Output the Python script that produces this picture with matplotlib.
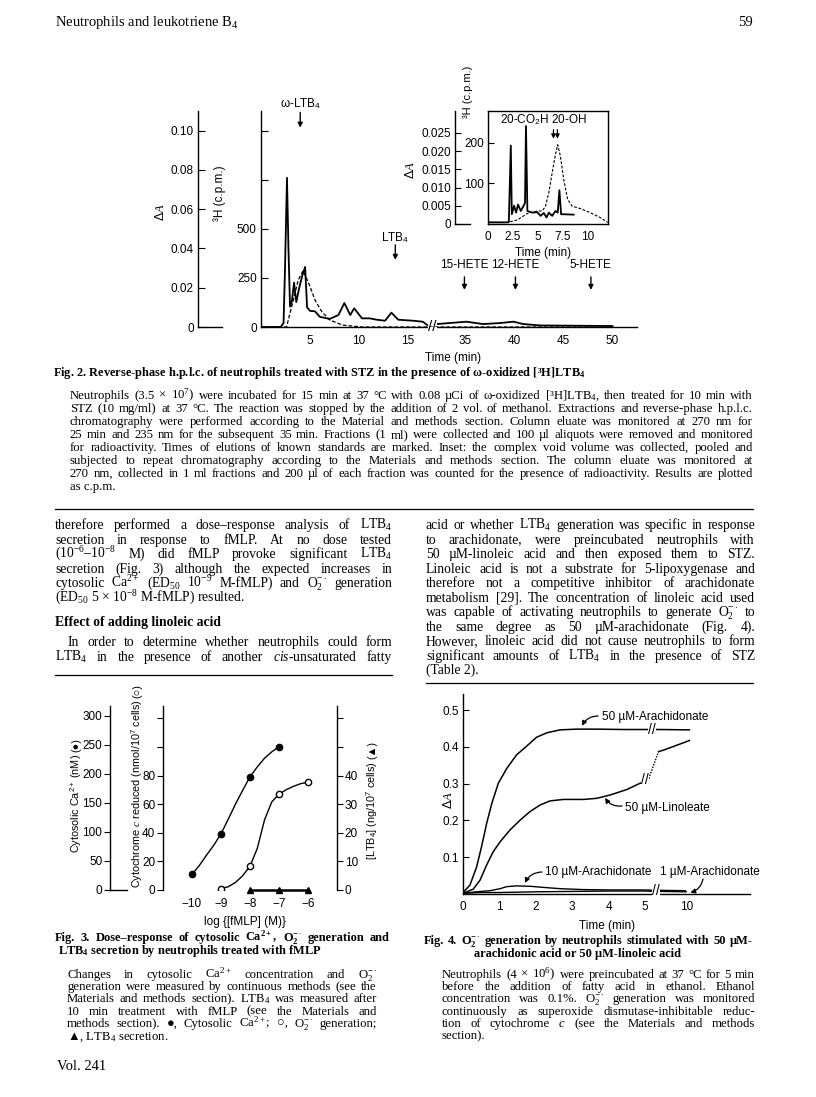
import numpy as np
import matplotlib
matplotlib.use('Agg')
import matplotlib.pyplot as plt
from matplotlib.lines import Line2D

W, H = 816, 1097

# ---- Fig. 2: h.p.l.c. trace (time in min) ----
hplc_t = [0, 2.0, 2.3, 2.45, 2.65, 2.8, 2.96, 3.15, 3.37, 3.6, 3.9, 4.2, 4.5, 4.7,
          5.0, 5.5, 6.0, 7.0, 7.9, 8.5, 9.1, 9.5, 10.3, 11.1, 11.8, 12.65, 13.3,
          14.0, 15.5, 16.5, 17.1, 32.1, 35.1, 36.8, 38.5, 39.9, 40.9, 42.6, 50.0]
hplc_cpm = [0, 0, 20, 300, 760, 400, 104, 130, 226, 127, 200, 260, 306, 100,
            82, 80, 52, 41, 61, 122, 61, 95, 44, 44, 37, 32, 73,
            37, 32, 27, 5, 15, 27, 15, 20, 27, 15, 8, 5]
abs_t = [0, 2.6, 3.3, 3.8, 4.3, 5.0, 5.5, 6.2, 7.0, 8.3, 10.3, 17.0, 32.0, 50.0]
abs_dA = [0, 0, 0.0137, 0.024, 0.0287, 0.0206, 0.0138, 0.0078, 0.0036, 0.001, 0, 0, 0, 0]
std_names = ['ω-LTB$_\\mathsf{4}$', 'LTB$_\\mathsf{4}$', '15-HETE', '12-HETE', '5-HETE']
std_times = [4.0, 13.7, 34.9, 40.1, 47.8]

# inset
ins_t = [0, 2.0, 2.1, 2.3, 2.4, 2.63, 2.83, 3.03, 3.3, 3.57, 3.73, 3.83, 3.97, 4.47,
         4.97, 5.3, 5.63, 5.9, 6.13, 6.47, 6.8, 7.03, 7.2, 7.37, 7.63, 8.63]
ins_cpm = [4, 4, 5, 193, 24, 45, 28, 48, 32, 44, 52, 241, 32, 28,
           29, 20, 27, 16, 28, 20, 32, 28, 83, 24, 24, 23]
ins_abs_t = [0, 1.97, 2.97, 3.97, 4.97, 5.47, 5.8, 6.13, 6.47, 6.8, 7.03, 7.3, 7.63,
             8.03, 8.47, 9.3, 10.3, 11.3, 12.07]
ins_abs = [4, 4, 10, 26, 32, 32, 44, 77, 126, 171, 195, 167, 110,
           61, 44, 38, 28, 16, 4]
ins_std_names = ['20-CO$_\\mathsf{2}$H', '20-OH']
ins_std_times = [6.6, 7.0]

# ---- Fig. 3: dose-response ----
dose = [-10, -9, -8, -7, -6]
dose_labels = ['\u221210', '\u22129', '\u22128', '\u22127', '\u22126']
ca_x = [-10, -9, -8, -7]
ca_nM = [27, 97, 195, 247]
ca_curve_x = [-10, -9.75, -9.5, -9.25, -9, -8.75, -8.5, -8.25, -8, -7.75, -7.5, -7.25, -7]
ca_curve = [27, 42, 60, 77, 97, 122, 148, 172, 195, 212, 227, 238, 247]
o2_x = [-9, -8, -7, -6]
o2_nmol = [1, 16.7, 67, 75.3]
o2_curve_x = [-9, -8.75, -8.5, -8.25, -8, -7.75, -7.5, -7.25, -7, -6.75, -6.5, -6.25, -6]
o2_curve = [1, 2.3, 5.3, 10, 16.7, 29, 49, 61.6, 67, 70.2, 72.5, 74.4, 75.3]
ltb4_x = [-8, -7, -6]
ltb4_ng = [0, 0, 0]

# ---- Fig. 4: O2- generation (time in min) ----
ara50_t = [0.01, 0.19, 0.375, 0.51, 0.65, 0.79, 0.97, 1.2, 1.47, 1.75, 2.02, 2.3,
           2.66, 3.12, 3.67, 4.4, 4.95, 6.6, 9.4, 10.07]
ara50 = [0.005, 0.024, 0.074, 0.129, 0.192, 0.246, 0.301, 0.341, 0.378, 0.402, 0.426,
         0.438, 0.446, 0.448, 0.448, 0.447, 0.447, 0.447, 0.447, 0.446]
lin50_t = [0.05, 0.28, 0.47, 0.65, 0.83, 1.02, 1.29, 1.57, 1.84, 2.12, 2.39, 2.76,
           3.31, 3.67, 4.04, 4.5, 4.95, 5.1]
lin50 = [0.004, 0.013, 0.038, 0.079, 0.115, 0.142, 0.174, 0.201, 0.224, 0.242, 0.253,
         0.257, 0.257, 0.26, 0.269, 0.284, 0.305, 0.314]
lin50_gap_t = [5.1, 9.25]
lin50_gap = [0.314, 0.387]
lin50_late_t = [9.25, 9.5, 10.07]
lin50_late = [0.387, 0.391, 0.417]
ara10_t = [0.01, 0.375, 0.74, 1.02, 1.2, 1.47, 1.84, 2.2, 2.66, 3.3, 4.04, 4.95, 9.4, 9.98]
ara10 = [0.002, 0.006, 0.009, 0.0145, 0.02, 0.022, 0.021, 0.018, 0.0145, 0.012, 0.011,
         0.011, 0.01, 0.009]
ara1_t = [0.01, 0.5, 1.0, 2.0, 3.0, 4.0, 4.95, 9.4, 10.0]
ara1 = [0.002, 0.004, 0.004, 0.006, 0.007, 0.008, 0.008, 0.007, 0.006]
f4_ticks = [0, 1, 2, 3, 4, 5, 10]

plt.rcParams['mathtext.fontset'] = 'custom'
plt.rcParams['mathtext.rm'] = 'Liberation Serif'
plt.rcParams['mathtext.it'] = 'Liberation Serif:italic'
plt.rcParams['mathtext.bf'] = 'Liberation Serif:bold'
plt.rcParams['mathtext.sf'] = 'Liberation Sans'
SERIF = ['Liberation Serif', 'DejaVu Serif']
SANS = ['Liberation Sans', 'DejaVu Sans']
plt.rcParams['font.family'] = SANS
plt.rcParams['axes.linewidth'] = 1.0
plt.rcParams['font.size'] = 8.5

fig = plt.figure(figsize=(W / 100, H / 100), dpi=100)
R = fig.canvas.get_renderer()


def box(x0, y0, x1, y1):
    return [x0 / W, 1 - y1 / H, (x1 - x0) / W, (y1 - y0) / H]


def put(x, y, s, size=9.8, x1=None, family=SERIF, weight='normal', ha='left', **kw):
    yb = 1 - (y + 0.3 * size / 0.72) / H
    if x1 is None:
        return fig.text(x / W, yb, s, fontsize=size, family=family, weight=weight,
                        ha=ha, va='baseline', **kw)
    words = s.split(' ')
    ts = [fig.text(0, yb, w, fontsize=size, family=family, weight=weight, va='baseline')
          for w in words]
    ws = [t.get_window_extent(R).width for t in ts]
    gap = (x1 - x - sum(ws)) / max(len(ws) - 1, 1)
    for t, w in zip(ts, ws):
        t.set_x(x / W)
        x += w + gap


def vlabel(x, y0, parts, size=7.8):
    # rotated axis label built upward from pixel y0, piece by piece
    y = y0
    for s in parts:
        t = fig.text(x / W, 1 - y / H, s, rotation=90, ha='center', va='bottom',
                     fontsize=size)
        y -= t.get_window_extent(R).height + 2


def rule(x0, x1, y):
    fig.add_artist(Line2D([x0 / W, x1 / W], [1 - y / H] * 2, lw=0.9, color='k',
                          transform=fig.transFigure))


def brk(tk, dk):
    return (lambda t: np.interp(t, tk, dk), lambda d: np.interp(d, dk, tk))


def bare(ax, keep=('left', 'bottom')):
    for s in ['left', 'right', 'top', 'bottom']:
        ax.spines[s].set_visible(s in keep)
    ax.patch.set_visible(False)


# ---------------- header ----------------
put(55, 22, 'Neutrophils and leukotriene B$_4$', size=10.5)
put(753, 22, '59', size=10.5, ha='right')

# ---------------- Fig. 2 ----------------
ax = fig.add_axes(box(261, 111, 637, 327))
bare(ax)
ax.set_xscale('function', functions=brk([-1000, 17.4, 31.7, 1000],
                                        [-1000, 17.4, 17.55, 1000 - 14.15]))
ax.set_xlim(0, 52.5)
ax.set_ylim(0, 1100)
ax.plot(hplc_t, hplc_cpm, color='k', lw=1.3)
ax2 = ax.twinx()
ax2.axis('off')
ax2.set_ylim(0, 0.11)
ax2.plot(abs_t, abs_dA, color='k', lw=0.9, ls=(0, (3, 1.6)))
ax.set_xticks([5, 10, 15, 35, 40, 45, 50])
ax.set_xticklabels(['5', '10', '15', '35', '40', '45', '50'])
ax.tick_params(axis='x', length=0, pad=6)
ax.set_yticks([0, 250, 500, 750, 1000])
ax.set_yticklabels(['0', '250', '500', '', ''])
ax.tick_params(axis='y', direction='in', length=5, pad=3)
ax.text(24.5, 0, '//', ha='center', va='center', fontsize=11, zorder=6, clip_on=False,
        bbox=dict(fc='white', ec='none', pad=0.3))
lab_y = [1138, 454, 316, 316, 316]
tail_y = [1092, 418, 255, 255, 255]
tip_y = [1015, 342, 189, 189, 189]
for n, t, ly, ty, py in zip(std_names, std_times, lab_y, tail_y, tip_y):
    ax.text(t, ly, n, ha='center', va='center', fontsize=8.5, clip_on=False)
    ax.annotate('', xy=(t, py), xytext=(t, ty), annotation_clip=False,
                arrowprops=dict(arrowstyle='-|>', color='k', lw=1, mutation_scale=7,
                                shrinkA=0, shrinkB=0))
put(453, 357, 'Time (min)', size=8.5, family=SANS, ha='center')
fig.text(220 / W, 1 - 193 / H, '³H (c.p.m.)', rotation=90, ha='center', va='center',
         fontsize=8.5)
fig.text(160 / W, 1 - 212 / H, 'Δ$\\it{A}$', rotation=90, ha='center', va='center',
         fontsize=9)

axa = fig.add_axes(box(198, 111, 222, 327))
bare(axa)
axa.set_ylim(0, 0.11)
axa.set_xticks([])
axa.set_yticks([0, 0.02, 0.04, 0.06, 0.08, 0.10])
axa.set_yticklabels(['0', '0.02', '0.04', '0.06', '0.08', '0.10'])
axa.tick_params(axis='y', direction='in', length=5, pad=3)

# inset
ai = fig.add_axes(box(488, 111, 608, 224))
ai.patch.set_visible(False)
ai.set_xlim(0, 12.1)
ai.set_ylim(0, 278)
ai.plot(ins_t, ins_cpm, color='k', lw=1.3)
ai.plot(ins_abs_t, ins_abs, color='k', lw=0.8, ls=(0, (2.5, 1.5)))
ai.set_xticks([0, 2.5, 5, 7.5, 10])
ai.set_xticklabels(['0', '2.5', '5', '7.5', '10'])
ai.tick_params(axis='x', length=0, pad=5)
ai.set_yticks([100, 200])
ai.tick_params(axis='y', direction='in', length=4, pad=3)
ai.text(5.6, 256, '20-CO$_\\mathsf{2}$H 20-OH', ha='center', va='center', fontsize=8.5)
for t in ins_std_times:
    ai.annotate('', xy=(t, 210), xytext=(t, 232),
                arrowprops=dict(arrowstyle='-|>', color='k', lw=0.9, mutation_scale=6,
                                shrinkA=0, shrinkB=0))
put(543, 252, 'Time (min)', size=8.5, family=SANS, ha='center')
fig.text(468 / W, 1 - 92 / H, '³H (c.p.m.)', rotation=90, ha='center', va='center',
         fontsize=8)

aia = fig.add_axes(box(455, 111, 470, 224))
bare(aia)
aia.set_ylim(0, 0.031)
aia.set_xticks([])
aia.set_yticks([0, 0.005, 0.010, 0.015, 0.020, 0.025])
aia.set_yticklabels(['0', '0.005', '0.010', '0.015', '0.020', '0.025'])
aia.tick_params(axis='y', direction='in', length=4, pad=3)
fig.text(410 / W, 1 - 170 / H, 'Δ$\\it{A}$', rotation=90, ha='center', va='center',
         fontsize=9)

# caption and legend of Fig. 2
put(53, 372, 'Fig. 2. Reverse-phase h.p.l.c. of neutrophils treated with STZ in the presence '
    'of ω-oxidized [³H]LTB$_\\mathbf{4}$', size=8.9, weight='bold')
L2 = ['Neutrophils (3.5 × 10$^7$) were incubated for 15 min at 37 °C with 0.08 µCi of '
      'ω-oxidized [³H]LTB$_4$, then treated for 10 min with',
      'STZ (10 mg/ml) at 37 °C. The reaction was stopped by the addition of 2 vol. of '
      'methanol. Extractions and reverse-phase h.p.l.c.',
      'chromatography were performed according to the Material and methods section. '
      'Column eluate was monitored at 270 nm for',
      '25 min and 235 nm for the subsequent 35 min. Fractions (1 ml) were collected and '
      '100 µl aliquots were removed and monitored',
      'for radioactivity. Times of elutions of known standards are marked. Inset: the '
      'complex void volume was collected, pooled and',
      'subjected to repeat chromatography according to the Materials and methods section. '
      'The column eluate was monitored at',
      '270 nm, collected in 1 ml fractions and 200 µl of each fraction was counted for the '
      'presence of radioactivity. Results are plotted']
for i, s in enumerate(L2):
    put(70, 395 + 13 * i, s, size=9.2, x1=753)
put(70, 395 + 13 * 7, 'as c.p.m.', size=9.2)
rule(55, 753, 509)

# body columns
left = ['therefore performed a dose–response analysis of LTB$_4$',
        'secretion in response to fMLP. At no dose tested',
        '(10$^{-6}$–10$^{-8}$ M) did fMLP provoke significant LTB$_4$',
        'secretion (Fig. 3) although the expected increases in',
        'cytosolic Ca$^{2+}$ (ED$_{50}$ 10$^{-9}$ M-fMLP) and O$_2^{-\\cdot}$ generation']
for i, s in enumerate(left):
    put(55, 525 + 14.5 * i, s, x1=392)
put(55, 597.5, '(ED$_{50}$ 5 × 10$^{-8}$ M-fMLP) resulted.')
put(55, 622, 'Effect of adding linoleic acid', weight='bold')
put(68, 642, 'In order to determine whether neutrophils could form', x1=392)
put(55, 657, 'LTB$_4$ in the presence of another $\\it{cis}$-unsaturated fatty', x1=392)
rule(55, 392, 675)

right = ['acid or whether LTB$_4$ generation was specific in response',
         'to arachidonate, were preincubated neutrophils with',
         '50 µM-linoleic acid and then exposed them to STZ.',
         'Linoleic acid is not a substrate for 5-lipoxygenase and',
         'therefore not a competitive inhibitor of arachidonate',
         'metabolism [29]. The concentration of linoleic acid used',
         'was capable of activating neutrophils to generate O$_2^{-\\cdot}$ to',
         'the same degree as 50 µM-arachidonate (Fig. 4).',
         'However, linoleic acid did not cause neutrophils to form',
         'significant amounts of LTB$_4$ in the presence of STZ']
for i, s in enumerate(right):
    put(426, 525 + 14.5 * i, s, x1=755)
put(426, 670, '(Table 2).')
rule(426, 753, 683)

# ---------------- Fig. 3 ----------------
ax3 = fig.add_axes(box(163, 706, 337, 890))
bare(ax3, keep=('left',))
ax3.set_xlim(-11, -5)
ax3.set_ylim(0, 128.7)
ax3.plot(o2_curve_x, o2_curve, color='k', lw=1.0)
ax3.plot(o2_x, o2_nmol, 'o', mfc='white', mec='k', ms=4.5, mew=1.0)
ax3.set_yticks([0, 20, 40, 60, 80, 100, 120])
ax3.set_yticklabels(['0', '20', '40', '60', '80', '', ''])
ax3.tick_params(axis='y', direction='out', length=4, pad=1.5)
ax3.set_xticks(dose)
ax3.set_xticklabels(dose_labels)
ax3.tick_params(axis='x', length=0, pad=6)

ax3r = ax3.twinx()
bare(ax3r, keep=('right',))
ax3r.set_ylim(0, 64.3)
ax3r.plot(ltb4_x, ltb4_ng, color='k', lw=1.8, marker='^', ms=4.5, clip_on=False)
ax3r.set_yticks([0, 10, 20, 30, 40, 50, 60])
ax3r.set_yticklabels(['0', '10', '20', '30', '40', '', ''])
ax3r.tick_params(axis='y', direction='out', length=4, pad=1.5)

ax3c = ax3.twinx()
ax3c.axis('off')
ax3c.set_ylim(0, 317)
ax3c.plot(ca_curve_x, ca_curve, color='k', lw=1.0)
ax3c.plot(ca_x, ca_nM, 'o', color='k', ms=4.5)

axca = fig.add_axes(box(110, 706, 127, 890))
bare(axca)
axca.set_ylim(0, 317)
axca.set_xticks([])
axca.set_yticks([0, 50, 100, 150, 200, 250, 300])
axca.tick_params(axis='y', direction='out', length=4, pad=1.5)

vlabel(76, 853, ['Cytosolic Ca$^{\\mathsf{2+}}$ (nM)', '(●)'])
vlabel(137, 888, ['Cytochrome $\\it{c}$ reduced (nmol/10$^{\\mathsf{7}}$ cells)', '(○)'])
vlabel(372, 860, ['[LTB$_\\mathsf{4}$] (ng/10$^{\\mathsf{7}}$ cells)', '(▲)'])
put(245, 921, 'log {[fMLP] (M)}', size=8.5, family=SANS, ha='center')

put(55, 937, 'Fig. 3. Dose–response of cytosolic Ca$^{\\mathbf{2+}}$, '
    'O$_\\mathbf{2}^{\\mathbf{-\\cdot}}$ generation and', size=8.9, weight='bold', x1=390)
put(190, 950, 'LTB$_\\mathbf{4}$ secretion by neutrophils treated with fMLP', size=8.9,
    weight='bold', ha='center')
L3 = ['Changes in cytosolic Ca$^{2+}$ concentration and O$_2^{-\\cdot}$',
      'generation were measured by continuous methods (see the',
      'Materials and methods section). LTB$_4$ was measured after',
      '10 min treatment with fMLP (see the Materials and',
      'methods section). ●, Cytosolic Ca$^{2+}$; ○, O$_2^{-\\cdot}$ generation;']
for i, s in enumerate(L3):
    put(67, 974 + 12.3 * i, s, size=9.2, x1=377)
put(67, 974 + 12.3 * 5, '▲, LTB$_4$ secretion.', size=9.2)
put(57, 1066, 'Vol. 241', size=10.5)

# ---------------- Fig. 4 ----------------
ax4 = fig.add_axes(box(463, 694, 750, 894))
bare(ax4)
ax4.set_xscale('function', functions=brk([-1000, 5.1, 9.4, 1000],
                                         [-1000, 5.1, 5.38, 5.38 + 990.6 * 1.25]))
ax4.set_xlim(0, 11.4)
ax4.set_ylim(0, 0.5435)
ax4.plot(ara50_t, ara50, color='k', lw=1.1)
ax4.plot(lin50_t, lin50, color='k', lw=1.1)
ax4.plot(lin50_gap_t, lin50_gap, color='k', lw=1.0, ls=(0, (1, 1)))
ax4.plot(lin50_late_t, lin50_late, color='k', lw=1.1)
ax4.plot(ara10_t, ara10, color='k', lw=1.0)
ax4.plot(ara1_t, ara1, color='k', lw=1.0)
ax4.set_xticks(f4_ticks)
ax4.set_xticklabels([str(v) for v in f4_ticks])
ax4.tick_params(axis='x', length=0, pad=5)
ax4.set_yticks([0.1, 0.2, 0.3, 0.4, 0.5])
ax4.set_yticklabels(['0.1', '0.2', '0.3', '0.4', '0.5'])
ax4.tick_params(axis='y', direction='in', length=4, pad=3)
for bt, bv in [(6.6, 0.447), (5.0, 0.31), (8.2, 0.008)]:
    ax4.text(bt, bv, '//', ha='center', va='center', fontsize=10, zorder=6,
             bbox=dict(fc='white', ec='none', pad=0.2))
fig.text(448 / W, 1 - 800 / H, 'Δ$\\it{A}$', rotation=90, ha='center', va='center',
         fontsize=9)
put(607, 925, 'Time (min)', size=8.5, family=SANS, ha='center')

f4_labels = ['50 µM-Arachidonate', '50 µM-Linoleate', '10 µM-Arachidonate', '1 µM-Arachidonate']
f4_text_px = [(602, 716), (625, 807), (545, 871), (660, 871)]
f4_tail_px = [(598, 716), (622, 806), (542, 872), (703, 879)]
f4_tip = [(3.27, 0.457), (3.9, 0.261), (1.7, 0.03), (10.09, 0.004)]
f4_rad = [0.3, -0.3, 0.3, -0.3]
for s, (tx, ty), (ax_, ay), tip, r in zip(f4_labels, f4_text_px, f4_tail_px, f4_tip, f4_rad):
    put(tx, ty, s, size=8.5, family=SANS)
    ax4.annotate('', xy=tip, xytext=(ax_, H - ay), textcoords='figure pixels',
                 annotation_clip=False,
                 arrowprops=dict(arrowstyle='-|>', color='k', lw=0.9, mutation_scale=7,
                                 shrinkA=0, shrinkB=0,
                                 connectionstyle='arc3,rad=%.1f' % r))

put(424, 940, 'Fig. 4. O$_\\mathbf{2}^{\\mathbf{-\\cdot}}$ generation by neutrophils stimulated '
    'with 50 µM-', size=8.9, weight='bold', x1=753)
put(578, 953, 'arachidonic acid or 50 µM-linoleic acid', size=8.9, weight='bold', ha='center')
L4 = ['Neutrophils (4 × 10$^6$) were preincubated at 37 °C for 5 min',
      'before the addition of fatty acid in ethanol. Ethanol',
      'concentration was 0.1%. O$_2^{-\\cdot}$ generation was monitored',
      'continuously as superoxide dismutase-inhibitable reduc-',
      'tion of cytochrome $\\it{c}$ (see the Materials and methods']
for i, s in enumerate(L4):
    put(442, 974 + 12.3 * i, s, size=9.2, x1=755)
put(442, 974 + 12.3 * 5, 'section).', size=9.2)

fig.savefig('out.png', dpi=100)
